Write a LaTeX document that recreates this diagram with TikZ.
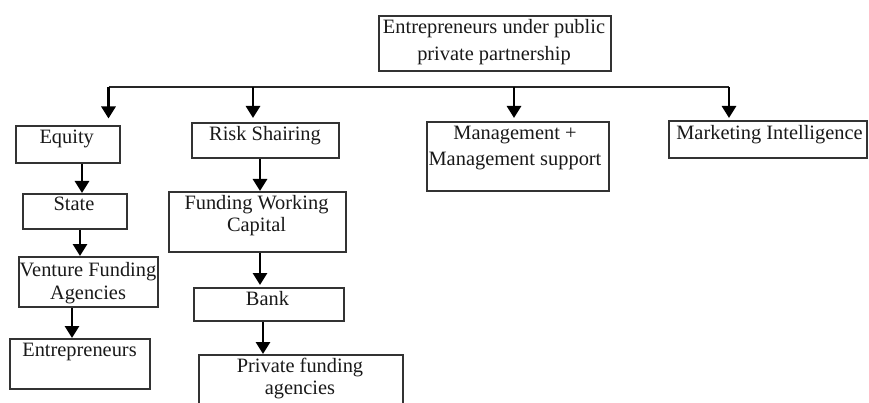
\documentclass[tikz,border=0pt]{standalone}
\usepackage{fontspec}
\setmainfont{Liberation Serif}
\usetikzlibrary{arrows.meta}
\begin{document}
\begin{tikzpicture}[x=1pt,y=-1pt,
  box/.style={draw=black!80, line width=1.8pt, rectangle, inner sep=0pt, anchor=north west},
  txt/.style={inner sep=0pt, text=black!90, font=\fontsize{20.4}{24}\selectfont},
  conn/.style={line width=2.2pt, draw=black!85},
  arr/.style={line width=2.8pt, draw=black, -{Triangle[width=14pt,length=12pt]}}]
\useasboundingbox (0,0) rectangle (869,403);
\clip (0,0) rectangle (869,403);
% boxes
\node[box, minimum width=232pt, minimum height=55pt] (top) at (378,15) {};
\node[box, minimum width=104pt, minimum height=37pt] (eq) at (15,125) {};
\node[box, minimum width=147pt, minimum height=35pt] (risk) at (191,122) {};
\node[box, minimum width=182pt, minimum height=69pt] (mgmt) at (426,121) {};
\node[box, minimum width=198pt, minimum height=37pt] (mkt) at (668,120) {};
\node[box, minimum width=104pt, minimum height=35pt] (st) at (22,193) {};
\node[box, minimum width=177pt, minimum height=60pt] (fund) at (168,191) {};
\node[box, minimum width=139pt, minimum height=50pt] (vent) at (18,256) {};
\node[box, minimum width=150pt, minimum height=33pt] (bank) at (193,287) {};
\node[box, minimum width=140pt, minimum height=50pt] (ent) at (9,338) {};
\node[box, minimum width=204pt, minimum height=60pt] (priv) at (198,354) {};
% texts
\node[txt, anchor=north, align=center, font=\fontsize{20.4}{27}\selectfont] (topt) at (494,14.4)
  {\strut Entrepreneurs under public\\\strut private partnership};
\node[txt, anchor=base] (eqt) at (66.7,144) {Equity};
\node[txt, anchor=base] (riskt) at (265,140.5) {Risk Shairing};
\node[txt, anchor=north, align=center, font=\fontsize{20.4}{26}\selectfont] (mgmtt) at (515,121.3)
  {\strut Management +\\\strut Management support};
\node[txt, anchor=base] (mktt) at (769.5,139.5) {Marketing Intelligence};
\node[txt, anchor=base] (stt) at (74,211) {State};
\node[txt, anchor=north, align=center, font=\fontsize{20.4}{22}\selectfont] (fundt) at (256.5,194.4)
  {\strut Funding Working\\\strut Capital};
\node[txt, anchor=north, align=center, font=\fontsize{20.4}{22.5}\selectfont] (ventt) at (88,261)
  {\strut Venture Funding\\\strut Agencies};
\node[txt, anchor=base] (bankt) at (267.5,305) {Bank};
\node[txt, anchor=base] (entt) at (79.5,356) {Entrepreneurs};
\node[txt, anchor=north, align=center, font=\fontsize{20.4}{22}\selectfont] (privt) at (300,356.9)
  {\strut Private funding\\\strut agencies};
% junctions
\coordinate (j1) at (108.5,87);
\coordinate (j2) at (253,87);
\coordinate (j3) at (514,87);
\coordinate (j4) at (729,87);
\coordinate (a1) at (82,0);
\coordinate (a2) at (260,0);
\coordinate (a3) at (80,0);
\coordinate (a4) at (260,0);
\coordinate (a5) at (72,0);
\coordinate (a6) at (263,0);
% connectors
\draw[conn] (j1) -- (j4);
\draw[arr, shorten >=6.5pt] (j1) -- (j1 |- eq.north);
\draw[arr, shorten >=4pt] (j2) -- (j2 |- risk.north);
\draw[arr, shorten >=3pt] (j3) -- (j3 |- mgmt.north);
\draw[arr, shorten >=2pt] (j4) -- (j4 |- mkt.north);
\draw[arr] (eq.south -| a1) -- (st.north -| a1);
\draw[arr] (risk.south -| a2) -- (fund.north -| a2);
\draw[arr] (st.south -| a3) -- (vent.north -| a3);
\draw[arr, shorten >=2pt] (fund.south -| a4) -- (bank.north -| a4);
\draw[arr] (vent.south -| a5) -- (ent.north -| a5);
\draw[arr] (bank.south -| a6) -- (priv.north -| a6);
\end{tikzpicture}
\end{document}
